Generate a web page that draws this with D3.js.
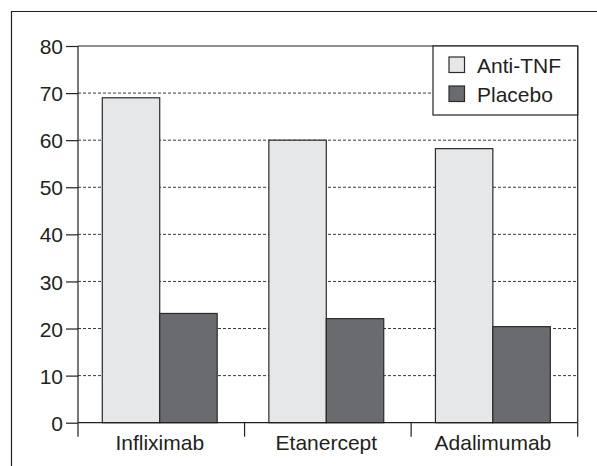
<!DOCTYPE html>
<html><head><meta charset="utf-8">
<script src="https://cdn.jsdelivr.net/npm/d3@7"></script>
<style>body{margin:0;background:#fff}</style>
</head><body>
<svg id="c" width="597" height="466"></svg>
<script>
const categories = ["Infliximab", "Etanercept", "Adalimumab"];
const seriesNames = ["Anti-TNF", "Placebo"];
const antiTNF = [69, 60, 58.2];
const placebo = [23.2, 22.1, 20.4];
const yTicks = [0, 10, 20, 30, 40, 50, 60, 70, 80];

const svg = d3.select("#c");
const ink = "#231f20";
const colors = {"Anti-TNF": "#e6e7e9", "Placebo": "#6a6b6f"};
const font = "Liberation Sans, Arial, sans-serif";
const fs = 21;

// outer frame (open on right/bottom)
svg.append("path").attr("d", "M11.5,466 V11.5 H597").attr("fill", "none").attr("stroke", ink).attr("stroke-width", 1.2);

const L = 78, R = 577.7, T = 46, B = 422.7;
const x = d3.scaleBand().domain(categories).range([L, R]).paddingInner(0).paddingOuter(0);
const xs = d3.scaleBand().domain(seriesNames).range([0, x.bandwidth()]).paddingInner(0).paddingOuter(0.45).align(0.47);
const y = d3.scaleLinear().domain([0, 80]).range([B, T]);

// gridlines
svg.append("g").selectAll("line").data(yTicks.filter(v => v > 0 && v < 80)).join("line")
  .attr("x1", L).attr("x2", R).attr("y1", d => y(d)).attr("y2", d => y(d))
  .attr("stroke", "#3a3a3a").attr("stroke-width", 1).attr("stroke-dasharray", "3,2");

// top and right border
svg.append("line").attr("x1", L).attr("x2", R).attr("y1", y(80)).attr("y2", y(80)).attr("stroke", ink).attr("stroke-width", 1.2);
svg.append("line").attr("x1", R).attr("x2", R).attr("y1", y(80)).attr("y2", B).attr("stroke", ink).attr("stroke-width", 1.2);

// bars
const data = categories.map((c, i) => ({c, vals: [{s: "Anti-TNF", v: antiTNF[i]}, {s: "Placebo", v: placebo[i]}]}));
const g = svg.append("g");
g.selectAll("g").data(data).join("g")
  .attr("transform", d => `translate(${x(d.c)},0)`)
  .selectAll("rect").data(d => d.vals).join("rect")
  .attr("x", d => xs(d.s)).attr("width", xs.bandwidth())
  .attr("y", d => y(d.v)).attr("height", d => B - y(d.v))
  .attr("fill", d => colors[d.s]).attr("stroke", "#2a2a2a").attr("stroke-width", 1.2);

// y axis
const yAxis = d3.axisLeft(y).tickValues(yTicks).tickSize(12).tickPadding(3).tickFormat(d3.format("d"));
const ya = svg.append("g").attr("transform", `translate(${L},0)`).call(yAxis);
ya.select(".domain").attr("d", `M0,${T}V${B}`).attr("stroke", ink).attr("stroke-width", 1.2);
ya.selectAll(".tick line").attr("stroke", ink).attr("stroke-width", 1.2);
ya.selectAll("text").attr("font-family", font).attr("font-size", fs).attr("fill", ink).attr("dy", "0.36em");

// x axis: ticks at category boundaries
const xa = svg.append("g").attr("transform", `translate(0,${B})`);
xa.append("line").attr("x1", L).attr("x2", R).attr("stroke", ink).attr("stroke-width", 1.2);
const bounds = categories.map(c => x(c)).concat([x(categories[categories.length - 1]) + x.bandwidth()]);
xa.selectAll(".bt").data(bounds).join("line").attr("class", "bt")
  .attr("x1", d => d).attr("x2", d => d).attr("y1", 0).attr("y2", 14)
  .attr("stroke", ink).attr("stroke-width", 1.2);
xa.selectAll(".lab").data(categories).join("text").attr("class", "lab")
  .attr("x", d => x(d) + x.bandwidth() / 2 - 1.5).attr("y", 27)
  .attr("text-anchor", "middle").attr("font-family", font).attr("font-size", fs).attr("fill", ink)
  .text(d => d);

// legend
const lg = svg.append("g").attr("transform", "translate(433,46)");
lg.append("rect").attr("width", 144.7).attr("height", 69).attr("fill", "#fff").attr("stroke", ink).attr("stroke-width", 1.2);
const items = lg.selectAll(".li").data(seriesNames).join("g").attr("class", "li")
  .attr("transform", (d, i) => `translate(16,${11 + i * 29})`);
items.append("rect").attr("width", 15.5).attr("height", 15.5)
  .attr("fill", d => colors[d]).attr("stroke", "#2a2a2a").attr("stroke-width", 1.2);
items.append("text").attr("x", 28).attr("y", 15.5).attr("font-family", font).attr("font-size", fs).attr("fill", ink).text(d => d);
</script>
</body></html>
